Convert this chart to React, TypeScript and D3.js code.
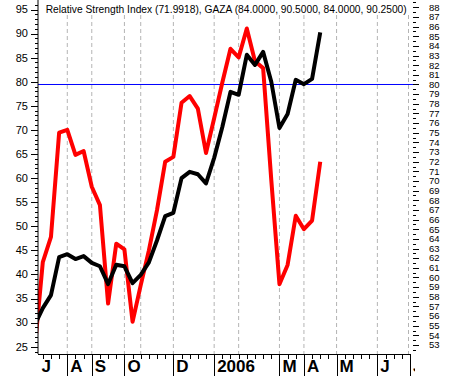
import React from "react";
import * as d3 from "d3";

// GAZA weekly close (left axis)
const priceValues = [29.5, 33.0, 35.7, 43.6, 44.2, 43.2, 43.8, 42.4, 41.7, 38.0, 42.0, 41.7, 38.2, 39.9, 42.5, 47.1, 52.1, 52.8, 60.0, 61.3, 60.8, 58.9, 64.2, 70.6, 77.9, 77.3, 85.6, 83.5, 86.2, 80.0, 70.4, 73.3, 80.4, 79.5, 80.6, 90.25];
// Relative Strength Index (right axis)
const rsiValues = [52.5, 61.6, 64.2, 75.0, 75.3, 72.7, 73.1, 69.4, 67.5, 57.3, 63.5, 62.9, 55.4, 59.2, 62.8, 67.0, 72.0, 72.5, 78.1, 78.8, 77.5, 72.9, 76.5, 80.2, 83.7, 82.8, 85.8, 82.4, 81.7, 70.1, 59.3, 61.3, 66.4, 65.0, 65.9, 71.99];
// month starts in week units
const monthWeeks = [4, 7, 11, 13, 17, 22, 25, 30, 33, 37, 42, 46];
const monthLabels = ["A", "S", "O", "", "D", "2006", "", "M", "A", "M", "J", "J"];
const firstLabel = "J";
const leftTicks = [25, 30, 35, 40, 45, 50, 55, 60, 65, 70, 75, 80, 85, 90, 95];
const rightTicks = d3.range(53, 89);
const rsiLevel = 80;
const title = "Relative Strength Index (71.9918), GAZA (84.0000, 90.5000, 84.0000, 90.2500)";

const W = 451, H = 379;
const L = 38, R = 410, T = 0, B = 354;

export default function App() {
  const x = d3.scaleLinear().domain([0.41, 46]).range([L, R]);
  const yL = d3.scaleLinear().domain([25, 95]).range([346.7, 9.5]);
  const yR = d3.scaleLinear().domain([53, 88]).range([345, 7.3]);

  const linePrice = d3.line<number>().x((_, i) => x(i)).y((d) => yL(d));
  const lineRsi = d3.line<number>().x((_, i) => x(i)).y((d) => yR(d));

  const font = "'Liberation Sans', Arial, sans-serif";
  const leftMinor = d3.range(24, 97);
  const rightMinor = d3.range(52.5, 88.6, 1);
  const weekTicks = d3.range(1, 47);

  return (
    <svg width={W} height={H} style={{ position: "absolute", left: 0, top: 0, background: "#fff" }} fontFamily={font}>
      <defs>
        <clipPath id="plot">
          <rect x={L} y={T} width={R - L} height={B - T} />
        </clipPath>
        <clipPath id="labels">
          <rect x={0} y={B} width={415} height={H - B} />
        </clipPath>
      </defs>
      <rect x={0} y={0} width={W} height={H} fill="#fff" />
      {/* grid */}
      {monthWeeks.map((m, i) => (
        <line key={"g" + i} x1={Math.min(x(m), 408.5)} x2={Math.min(x(m), 408.5)} y1={15} y2={B} stroke="#b4b4b4" strokeDasharray="4,3" />
      ))}
      {/* title */}
      <text x={45.7} y={13} fontSize={11} textLength={361} lengthAdjust="spacingAndGlyphs" fill="#000">{title}</text>
      {/* RSI level */}
      <line x1={L} x2={413} y1={yR(rsiLevel)} y2={yR(rsiLevel)} stroke="#0000ff" strokeWidth={1} />
      {/* lines */}
      <g clipPath="url(#plot)">
        <path d={lineRsi(rsiValues) || ""} fill="none" stroke="#ff0000" strokeWidth={4} strokeLinejoin="round" />
        <path d={linePrice(priceValues) || ""} fill="none" stroke="#000" strokeWidth={4} strokeLinejoin="round" />
      </g>
      {/* left axis */}
      <line x1={L} x2={L} y1={T} y2={B} stroke="#000" />
      {leftMinor.map((v) => (
        <line key={"lm" + v} x1={35} x2={L} y1={Math.round(yL(v)) + 0.5} y2={Math.round(yL(v)) + 0.5} stroke="#000" />
      ))}
      {leftTicks.map((v) => (
        <g key={"lt" + v}>
          <line x1={31} x2={L} y1={Math.round(yL(v)) + 0.5} y2={Math.round(yL(v)) + 0.5} stroke="#000" />
          <text x={28} y={yL(v)} dy="0.35em" fontSize={11} textAnchor="end" fill="#000">{v}</text>
        </g>
      ))}
      {/* right axis */}
      {rightMinor.map((v) => (
        <line key={"rm" + v} x1={413} x2={416} y1={Math.round(yR(v)) + 0.5} y2={Math.round(yR(v)) + 0.5} stroke="#000" />
      ))}
      {rightTicks.map((v) => (
        <g key={"rt" + v}>
          <line x1={413} x2={419} y1={Math.round(yR(v)) + 0.5} y2={Math.round(yR(v)) + 0.5} stroke="#000" />
          <text x={429} y={yR(v)} dy="0.35em" fontSize={9.5} fill="#000">{v}</text>
        </g>
      ))}
      {/* bottom axis */}
      <line x1={L} x2={R} y1={B + 0.5} y2={B + 0.5} stroke="#000" />
      {weekTicks.map((t) => (
        <line key={"wt" + t} x1={Math.round(x(t)) + 0.5} x2={Math.round(x(t)) + 0.5} y1={B} y2={B + 5} stroke="#000" />
      ))}
      {monthWeeks.map((m, i) =>
        monthLabels[i] ? (
          <line key={"mt" + i} x1={Math.round(x(m)) + 0.5} x2={Math.round(x(m)) + 0.5} y1={B} y2={376} stroke="#000" />
        ) : null
      )}
      <g clipPath="url(#labels)">
        <text x={L + 3.5} y={372} fontSize={17} fontWeight="bold" fill="#000">{firstLabel}</text>
        {monthWeeks.map((m, i) =>
          monthLabels[i] ? (
            <text key={"ml" + i} x={x(m) + 3} y={372} fontSize={17} fontWeight="bold" fill="#000">{monthLabels[i]}</text>
          ) : null
        )}
      </g>
    </svg>
  );
}
